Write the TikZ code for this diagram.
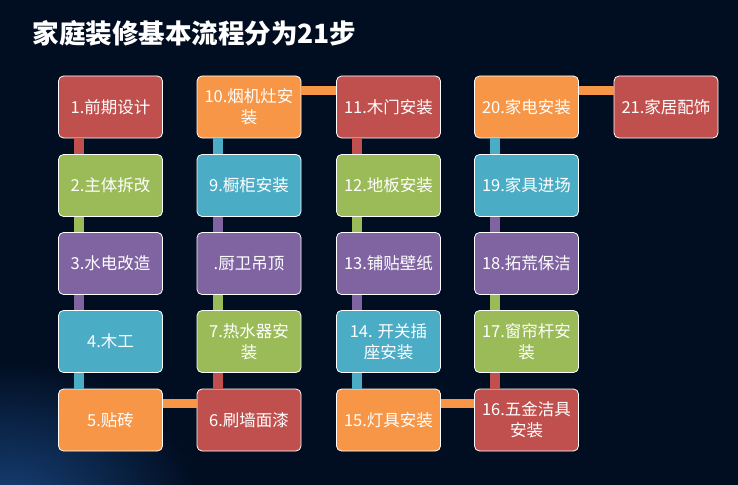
\documentclass[tikz,border=0pt]{standalone}
\usepackage{fontspec}
\newfontfamily\cjk{Noto Sans CJK SC}
\usepackage{tikz}
\definecolor{bgnavy}{HTML}{010D20}
\definecolor{glowblue}{HTML}{17427A}
\definecolor{stepred}{HTML}{C0504D}
\definecolor{stepgreen}{HTML}{9BBB59}
\definecolor{steppurple}{HTML}{8064A2}
\definecolor{stepblue}{HTML}{4BACC6}
\definecolor{steporange}{HTML}{F79646}
\tikzset{stepbox/.style={draw=white,line width=0.8pt,rounded corners=5pt,minimum width=104pt,minimum height=62pt,inner sep=1pt,align=center,text=white,font=\cjk\fontsize{16.5}{21}\selectfont},
steplink/.style={line width=10pt}}

\begin{document}
\begin{tikzpicture}[x=1pt,y=-1pt]
% background
\useasboundingbox (0,0) rectangle (738,484);
\fill[bgnavy] (-3,-3) rectangle (741,487);
\begin{scope}
\clip (-3,-3) rectangle (741,487);
\shade[inner color=glowblue,outer color=bgnavy] (10,510) ellipse (190 and 150);
\end{scope}
% title
\node[anchor=west,text=white,font=\cjk\bfseries\fontsize{26.5}{32}\selectfont] (title) at (29,33) {家庭装修基本流程分为21步};
% column 1
\node[stepbox,fill=stepred] (s1) at (110.5,107) {1.前期设计};
\node[stepbox,fill=stepgreen] (s2) at (110.5,185.5) {2.主体拆改};
\node[stepbox,fill=steppurple] (s3) at (110.5,263.5) {3.水电改造};
\node[stepbox,fill=stepblue] (s4) at (110.5,341.5) {4.木工};
\node[stepbox,fill=steporange] (s5) at (110.5,420) {5.贴砖};
% column 2
\node[stepbox,fill=stepred] (s6) at (249,420) {6.刷墙面漆};
\node[stepbox,fill=stepgreen] (s7) at (249,341.5) {7.热水器安\\装};
\node[stepbox,fill=steppurple] (s8) at (249,263.5) {.厨卫吊顶};
\node[stepbox,fill=stepblue] (s9) at (249,185.5) {9.橱柜安装};
\node[stepbox,fill=steporange] (s10) at (249,107) {10.烟机灶安\\装};
% column 3
\node[stepbox,fill=stepred] (s11) at (388.5,107) {11.木门安装};
\node[stepbox,fill=stepgreen] (s12) at (388.5,185.5) {12.地板安装};
\node[stepbox,fill=steppurple] (s13) at (388.5,263.5) {13.铺贴壁纸};
\node[stepbox,fill=stepblue] (s14) at (388.5,341.5) {14. 开关插\\座安装};
\node[stepbox,fill=steporange] (s15) at (388.5,420) {15.灯具安装};
% column 4
\node[stepbox,fill=stepred] (s16) at (526.5,420) {16.五金洁具\\安装};
\node[stepbox,fill=stepgreen] (s17) at (526.5,341.5) {17.窗帘杆安\\装};
\node[stepbox,fill=steppurple] (s18) at (526.5,263.5) {18.拓荒保洁};
\node[stepbox,fill=stepblue] (s19) at (526.5,185.5) {19.家具进场};
\node[stepbox,fill=steporange] (s20) at (526.5,107) {20.家电安装};
% column 5
\node[stepbox,fill=stepred] (s21) at (666,107) {21.家居配饰};
% vertical links, colour of the step they leave
\draw[steplink,stepred] ([xshift=21pt]s1.south west) -- ([xshift=21pt]s2.north west);
\draw[steplink,stepgreen] ([xshift=21pt]s2.south west) -- ([xshift=21pt]s3.north west);
\draw[steplink,steppurple] ([xshift=21pt]s3.south west) -- ([xshift=21pt]s4.north west);
\draw[steplink,stepblue] ([xshift=21pt]s4.south west) -- ([xshift=21pt]s5.north west);
\draw[steplink,stepred] ([xshift=21pt]s6.north west) -- ([xshift=21pt]s7.south west);
\draw[steplink,stepgreen] ([xshift=21pt]s7.north west) -- ([xshift=21pt]s8.south west);
\draw[steplink,steppurple] ([xshift=21pt]s8.north west) -- ([xshift=21pt]s9.south west);
\draw[steplink,stepblue] ([xshift=21pt]s9.north west) -- ([xshift=21pt]s10.south west);
\draw[steplink,stepred] ([xshift=21pt]s11.south west) -- ([xshift=21pt]s12.north west);
\draw[steplink,stepgreen] ([xshift=21pt]s12.south west) -- ([xshift=21pt]s13.north west);
\draw[steplink,steppurple] ([xshift=21pt]s13.south west) -- ([xshift=21pt]s14.north west);
\draw[steplink,stepblue] ([xshift=21pt]s14.south west) -- ([xshift=21pt]s15.north west);
\draw[steplink,stepred] ([xshift=21pt]s16.north west) -- ([xshift=21pt]s17.south west);
\draw[steplink,stepgreen] ([xshift=21pt]s17.north west) -- ([xshift=21pt]s18.south west);
\draw[steplink,steppurple] ([xshift=21pt]s18.north west) -- ([xshift=21pt]s19.south west);
\draw[steplink,stepblue] ([xshift=21pt]s19.north west) -- ([xshift=21pt]s20.south west);
% horizontal links
\draw[steplink,steporange,line width=9pt] ([yshift=-14.5pt]s5.north east) -- ([yshift=-14.5pt]s6.north west);
\draw[steplink,steporange,line width=9pt] ([yshift=-14.5pt]s10.north east) -- ([yshift=-14.5pt]s11.north west);
\draw[steplink,steporange,line width=9pt] ([yshift=-14.5pt]s15.north east) -- ([yshift=-14.5pt]s16.north west);
\draw[steplink,steporange,line width=9pt] ([yshift=-14.5pt]s20.north east) -- ([yshift=-14.5pt]s21.north west);
\end{tikzpicture}
\end{document}
